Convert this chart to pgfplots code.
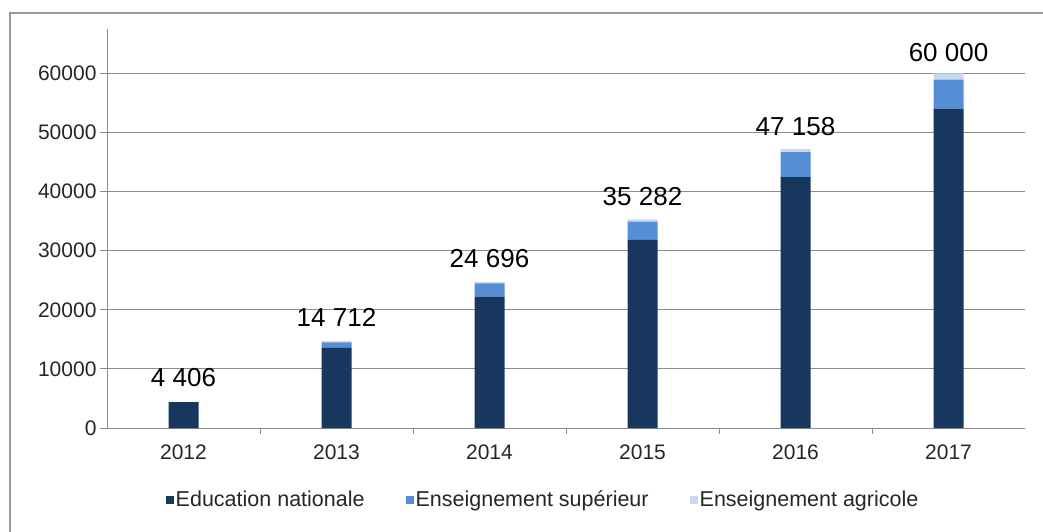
\documentclass[border=0pt]{standalone}
\usepackage{fontspec}
\setmainfont{Liberation Sans}
\usepackage{pgfplots}
\pgfplotsset{compat=1.18}
\definecolor{ednat}{HTML}{17375E}
\definecolor{enssup}{HTML}{558ED5}
\definecolor{ensagr}{HTML}{C6D9F1}
\definecolor{gridgray}{HTML}{8C8C8C}
\definecolor{txt}{HTML}{262626}
\pgfplotsset{sq/.style={legend image code/.code={\path[##1] (0pt,-4pt) rectangle (8pt,4pt);}}}
\begin{document}
\begin{tikzpicture}
\begin{axis}[
  at={(0pt,0pt)}, anchor=south west,
  width=918pt, height=399pt, scale only axis,
  ybar stacked, bar width=30pt,
  xmin=-0.5, xmax=5.5, ymin=0, ymax=67500,
  axis lines*=left,
  axis line style={gridgray, line width=0.8pt},
  xtick={0,...,5},
  xticklabels={2012,2013,2014,2015,2016,2017},
  minor xtick={0.5,1.5,2.5,3.5,4.5},
  major x tick style={draw=none},
  minor x tick style={gridgray, line width=0.8pt},
  minor tick length=6pt,
  ytick={0,10000,...,60000},
  scaled y ticks=false,
  y tick style={gridgray, line width=0.8pt},
  major tick length=7pt,
  tick align=outside,
  ymajorgrids, grid style={gridgray, line width=0.8pt},
  tick label style={font=\fontsize{21}{25}\selectfont, text=txt},
  x tick label style={yshift=-6pt},
  /pgf/number format/assume math mode=true,
  /pgf/number format/1000 sep={},
  legend style={at={(0.475,-0.18)}, anchor=center, draw=none, legend columns=3,
    font=\fontsize{21.5}{26}\selectfont, text=txt,
    /tikz/every even column/.append style={column sep=39pt}},
]
\addplot[fill=ednat, draw=none, sq] coordinates {(0,4396) (1,13570) (2,22240) (3,31840) (4,42450) (5,54010)};
\addplot[fill=enssup, draw=none, sq] coordinates {(0,0) (1,900) (2,2230) (3,3060) (4,4220) (5,4930)};
\addplot[fill=ensagr, draw=none, sq,
  nodes near coords, point meta=explicit symbolic,
  nodes near coords style={font=\fontsize{26}{31}\selectfont, text=black, anchor=south, inner sep=0pt, yshift=15pt}]
  coordinates {(0,10)[4 406] (1,242)[14 712] (2,226)[24 696] (3,382)[35 282] (4,488)[47 158] (5,1060)[60 000]};
\legend{Education nationale, Enseignement supérieur, Enseignement agricole}
\end{axis}
\draw[gray!80, line width=2pt] (-97pt,-110pt) -- (-97pt,415pt) -- (945pt,415pt);
\pgfresetboundingbox
\path[use as bounding box] (-107pt,-103pt) rectangle (936pt,428pt);
\end{tikzpicture}
\end{document}
